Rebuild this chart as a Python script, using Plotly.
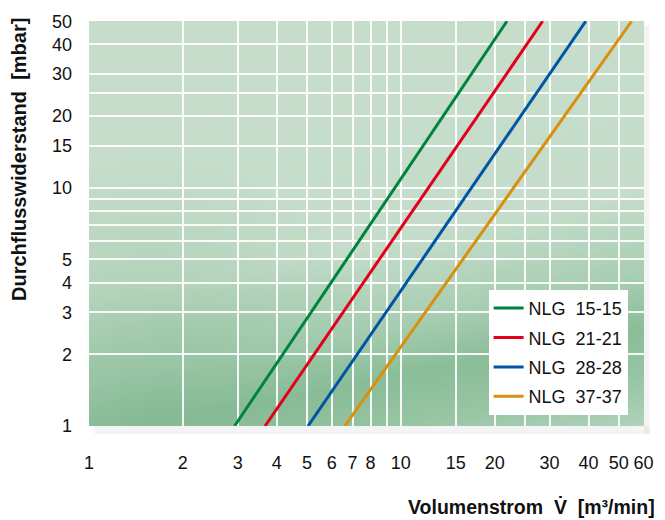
import base64
import plotly.graph_objects as go

# ---- data ----
series_names = ["NLG\u00a0\u00a015-15", "NLG\u00a0\u00a021-21", "NLG\u00a0\u00a028-28", "NLG\u00a0\u00a037-37"]
series_colors = ["#00843d", "#e2001a", "#0054a4", "#d9900d"]
flow_at_low = [2.93, 3.67, 5.04, 6.61]      # m3/min at 1 mbar
flow_at_high = [21.9, 28.5, 39.2, 55.0]     # m3/min at 50 mbar
pressure_low = 1
pressure_high = 50

x_tick_vals = [1, 2, 3, 4, 5, 6, 7, 8, 9, 10, 15, 20, 25, 30, 40, 50, 60]
x_tick_text = ["1", "2", "3", "4", "5", "6", "7", "8", "", "10", "15", "20", "", "30", "40", "50", "60"]
y_tick_vals = [1, 2, 3, 4, 5, 6, 7, 8, 9, 10, 15, 20, 25, 30, 40, 50]
y_tick_text = ["1", "2", "3", "4", "5", "", "", "", "", "10", "15", "20", "", "30", "40", "50"]

# ---- background gradient (decoration) ----
svg = """<svg xmlns='http://www.w3.org/2000/svg' width='556' height='409' viewBox='0 0 556 409' preserveAspectRatio='none'>
<defs>
<linearGradient id='g' gradientUnits='userSpaceOnUse' x1='225' y1='60' x2='305' y2='470'>
<stop offset='0' stop-color='#c6ddcc'/>
<stop offset='0.42' stop-color='#c4dcc9'/>
<stop offset='0.62' stop-color='#a6cdb1'/>
<stop offset='0.74' stop-color='#8abd98'/>
<stop offset='0.86' stop-color='#98c5a4'/>
<stop offset='1' stop-color='#b6d6bf'/>
</linearGradient>
<radialGradient id='r' gradientUnits='userSpaceOnUse' cx='60' cy='400' r='260'>
<stop offset='0' stop-color='#7fb68e' stop-opacity='0.5'/>
<stop offset='1' stop-color='#7fb68e' stop-opacity='0'/>
</radialGradient>
</defs>
<rect width='556' height='409' fill='url(#g)'/>
<rect width='556' height='409' fill='url(#r)'/>
</svg>"""
bg_src = "data:image/svg+xml;base64," + base64.b64encode(svg.encode()).decode()

fig = go.Figure()
for i, name in enumerate(series_names):
    fig.add_trace(go.Scatter(
        x=[flow_at_low[i], flow_at_high[i]],
        y=[pressure_low, pressure_high],
        mode="lines",
        name=name,
        legendgroup=f"g{i}",
        line=dict(color=series_colors[i], width=3),
    ))

font_family = "Liberation Sans, Arial, Helvetica, sans-serif"

fig.update_layout(
    width=665, height=520,
    margin=dict(l=89, r=18, t=17, b=94),
    paper_bgcolor="white",
    plot_bgcolor="#c6ddcc",
    font=dict(family=font_family, size=18, color="#111111"),
    showlegend=True,
    legend=dict(
        x=0.72, y=0.336, xanchor="left", yanchor="top",
        bgcolor="white", borderwidth=0,
        font=dict(size=18, color="#111111"),
        tracegroupgap=3,
        itemwidth=30,
    ),
    images=[dict(
        source=bg_src, xref="paper", yref="paper",
        x=0, y=1, sizex=1, sizey=1, xanchor="left", yanchor="top",
        sizing="stretch", layer="below",
    )],
    shapes=[
        dict(type="rect", xref="paper", yref="paper", x0=0.01, x1=1.01, y0=-0.02, y1=0,
             fillcolor="rgba(0,0,0,0.045)", line=dict(width=0), layer="below"),
        dict(type="rect", xref="paper", yref="paper", x0=1, x1=1.01, y0=-0.02, y1=0.99,
             fillcolor="rgba(0,0,0,0.045)", line=dict(width=0), layer="below"),
    ],
    annotations=[
        dict(text="<b>Volumenstrom\u00a0\u00a0V\u0307\u00a0\u00a0[m³/min]</b>",
             xref="paper", yref="paper", x=1.023, y=-0.198, xanchor="right", yanchor="middle",
             showarrow=False, font=dict(size=19.5, color="#111111")),
        dict(text="<b>Durchflusswiderstand\u00a0\u00a0[mbar]</b>",
             xref="paper", yref="paper", x=-0.127, y=0.658, xanchor="center", yanchor="middle",
             textangle=-90, showarrow=False, font=dict(size=20, color="#111111")),
    ],
)

fig.update_xaxes(
    type="log", range=[0, 1.78],
    tickmode="array", tickvals=x_tick_vals, ticktext=x_tick_text,
    showgrid=True, gridcolor="rgba(255,255,255,0.9)", gridwidth=1.5,
    zeroline=False, showline=False, ticks="", ticklabelstandoff=24,
)
fig.update_yaxes(
    type="log", range=[0, 1.7],
    tickmode="array", tickvals=y_tick_vals, ticktext=y_tick_text,
    showgrid=True, gridcolor="rgba(255,255,255,0.9)", gridwidth=1.5,
    zeroline=False, showline=False, ticks="", ticklabelstandoff=16,
)

fig.write_html("out.html", config={"displayModeBar": False},
               post_script="document.body.style.margin='0';document.body.style.overflow='hidden';")
